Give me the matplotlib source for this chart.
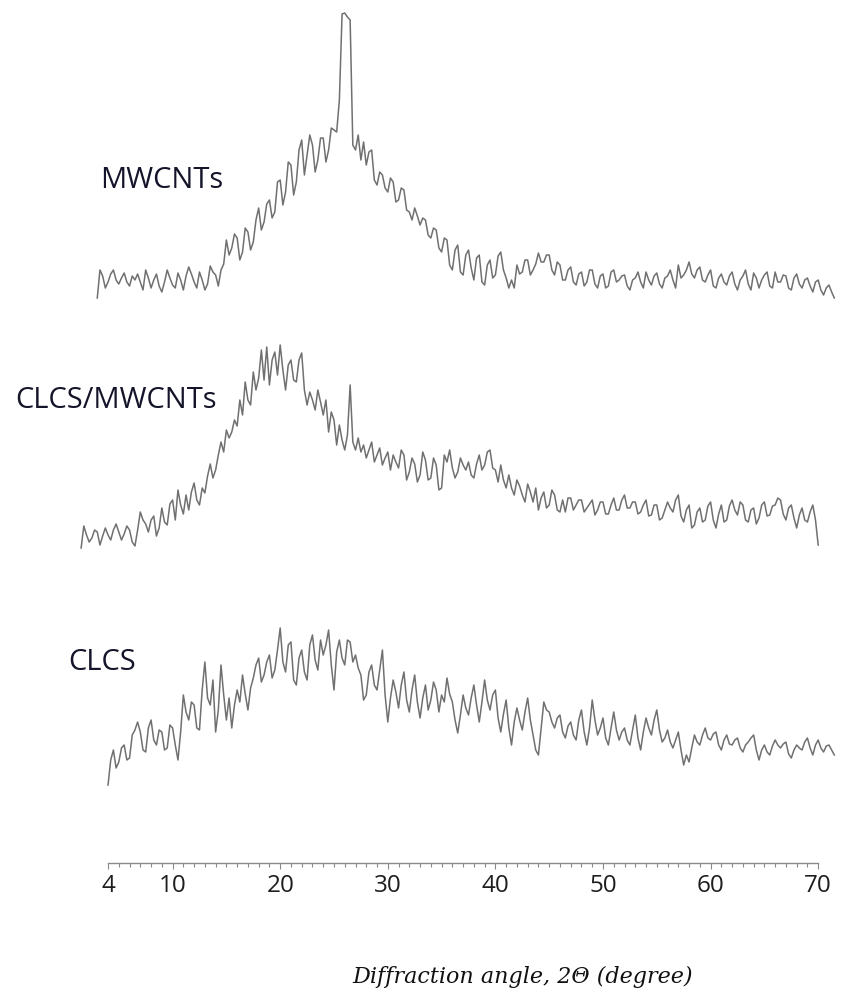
import numpy as np
import matplotlib
matplotlib.use("Agg")
import matplotlib.pyplot as plt
from matplotlib.ticker import FixedLocator

# --- XRD traces (relative intensity, one value every 0.25 deg) ---
step = 0.25

mwcnt_start = 3.0
mwcnt = [
    2, 30, 24, 12, 18, 26, 30, 20, 16, 22, 27, 18, 14, 24, 20, 26, 18, 10, 30, 22,
    12, 20, 26, 14, 8, 18, 30, 22, 15, 12, 27, 20, 10, 24, 33, 26, 18, 12, 28, 20,
    10, 16, 34, 28, 25, 14, 30, 36, 60, 45, 52, 66, 62, 40, 48, 72, 68, 50, 58, 80,
    92, 70, 78, 96, 100, 82, 88, 118, 120, 95, 108, 138, 135, 105, 118, 150, 160, 125, 145, 165,
    155, 128, 140, 162, 162, 138, 150, 172, 170, 168, 200, 286, 287, 283, 280, 155, 150, 165, 140, 158,
    135, 148, 150, 120, 115, 128, 125, 112, 108, 122, 118, 98, 100, 112, 110, 90, 88, 80, 92, 84,
    75, 82, 80, 65, 62, 72, 70, 52, 48, 62, 60, 35, 30, 50, 55, 28, 25, 45, 50, 32,
    20, 42, 45, 18, 15, 35, 40, 22, 25, 44, 48, 30, 22, 12, 20, 12, 35, 26, 28, 40,
    40, 25, 30, 36, 47, 38, 38, 45, 45, 30, 25, 38, 35, 20, 20, 30, 33, 18, 15, 26,
    28, 14, 18, 30, 30, 16, 12, 24, 26, 12, 14, 28, 30, 18, 20, 24, 25, 14, 10, 20,
    22, 28, 18, 12, 28, 20, 15, 24, 27, 16, 12, 22, 24, 30, 20, 12, 35, 22, 25, 30,
    38, 26, 22, 30, 33, 20, 18, 25, 30, 14, 12, 22, 26, 18, 15, 24, 28, 16, 10, 20,
    24, 30, 16, 10, 27, 22, 12, 20, 25, 28, 14, 12, 28, 18, 18, 25, 24, 12, 10, 22,
    26, 16, 12, 20, 22, 14, 8, 18, 20, 10, 5, 12, 15, 8, 2,
]

composite_start = 1.5
composite = [
    2, 24, 15, 8, 12, 20, 18, 5, 14, 22, 15, 10, 20, 26, 18, 10, 16, 24, 20, 8,
    4, 20, 38, 30, 26, 18, 30, 34, 14, 22, 42, 28, 25, 46, 50, 30, 60, 45, 36, 55,
    40, 58, 67, 50, 45, 62, 57, 74, 86, 72, 80, 95, 108, 98, 120, 112, 118, 130, 124, 150,
    135, 168, 150, 145, 178, 160, 172, 200, 170, 203, 165, 190, 198, 175, 205, 180, 160, 185, 190, 170,
    168, 190, 197, 160, 145, 158, 150, 140, 160, 148, 135, 150, 118, 138, 130, 105, 125, 110, 100, 115,
    165, 108, 100, 112, 98, 105, 92, 100, 108, 88, 95, 102, 85, 92, 98, 80, 95, 88, 82, 100,
    95, 70, 78, 92, 86, 68, 75, 98, 90, 70, 72, 92, 85, 60, 62, 95, 88, 100, 82, 72,
    78, 92, 85, 80, 88, 75, 72, 86, 95, 80, 85, 98, 100, 82, 80, 68, 85, 70, 62, 75,
    62, 55, 70, 64, 55, 48, 66, 58, 48, 62, 40, 52, 58, 42, 45, 60, 55, 40, 38, 50,
    38, 52, 52, 40, 45, 50, 50, 38, 42, 46, 50, 35, 40, 48, 48, 36, 36, 45, 52, 40,
    40, 50, 55, 42, 42, 48, 48, 36, 38, 45, 50, 34, 35, 45, 45, 30, 32, 40, 48, 42,
    38, 50, 55, 34, 28, 40, 45, 22, 25, 38, 42, 28, 30, 44, 48, 30, 22, 36, 45, 28,
    30, 44, 50, 40, 35, 48, 45, 30, 28, 40, 42, 26, 32, 45, 48, 34, 35, 44, 45, 52,
    50, 36, 30, 42, 45, 32, 22, 35, 42, 30, 28, 38, 45, 30, 5,
]

clcs_start = 4.0
clcs = [
    5, 30, 40, 22, 28, 42, 45, 30, 32, 55, 60, 68, 58, 40, 38, 62, 70, 50, 45, 60,
    58, 40, 42, 65, 62, 45, 30, 58, 95, 78, 70, 88, 85, 62, 60, 100, 128, 92, 85, 110,
    58, 80, 125, 95, 70, 92, 62, 85, 100, 88, 115, 96, 80, 102, 112, 125, 132, 108, 115, 128,
    135, 112, 120, 140, 162, 128, 118, 145, 148, 110, 105, 132, 140, 118, 110, 145, 155, 130, 120, 150,
    135, 145, 160, 125, 100, 138, 150, 132, 125, 150, 148, 128, 135, 122, 115, 90, 95, 118, 125, 105,
    100, 120, 140, 95, 68, 92, 110, 98, 82, 105, 118, 90, 78, 100, 115, 88, 72, 92, 105, 80,
    90, 108, 100, 78, 95, 88, 112, 96, 88, 70, 57, 75, 95, 82, 75, 92, 105, 85, 68, 88,
    110, 90, 80, 95, 100, 72, 58, 76, 90, 62, 45, 68, 82, 70, 60, 78, 92, 70, 55, 40,
    35, 62, 88, 80, 78, 68, 62, 72, 75, 58, 52, 64, 68, 55, 50, 70, 80, 58, 45, 62,
    90, 70, 55, 62, 72, 52, 45, 62, 78, 60, 50, 58, 62, 50, 45, 60, 75, 52, 40, 58,
    72, 62, 55, 70, 80, 60, 48, 52, 60, 48, 42, 50, 58, 40, 25, 35, 28, 42, 55, 48,
    45, 55, 62, 52, 50, 56, 58, 45, 40, 50, 55, 46, 45, 50, 52, 42, 38, 45, 48, 52,
    55, 40, 30, 40, 45, 38, 35, 44, 50, 45, 42, 46, 48, 36, 32, 40, 45, 42, 40, 48,
    52, 42, 35, 45, 50, 42, 38, 44, 45, 40, 35,
]

labels = ["MWCNTs", "CLCS/MWCNTs", "CLCS"]
tick_values = [4, 10, 20, 30, 40, 50, 60, 70]

# vertical stacking of the three patterns
offsets = [692, 442, 202]
axis_level = 129

fig = plt.figure(figsize=(8.41, 9.92), dpi=100)
ax = fig.add_axes([0, 0, 1, 1])
ax.set_xlim(-6.04, 72.12)
ax.set_ylim(0, 992)

line_kw = dict(color="#707070", lw=1.1)
for start, vals, off in [(mwcnt_start, mwcnt, offsets[0]),
                         (composite_start, composite, offsets[1]),
                         (clcs_start, clcs, offsets[2])]:
    vals = np.asarray(vals, dtype=float)
    x = start + step * np.arange(len(vals))
    ax.plot(x, vals + off, **line_kw)

font = "Open Sans"
txt_kw = dict(fontsize=21, family=font, color="#14142a", va="center", ha="left")
ax.text(3.26, 811, labels[0], **txt_kw)
ax.text(-4.64, 591, labels[1], **txt_kw)
ax.text(0.3, 330, labels[2], **txt_kw)

# bottom axis only
for side in ["left", "right", "top"]:
    ax.spines[side].set_visible(False)
ax.spines["bottom"].set_position(("data", axis_level))
ax.spines["bottom"].set_bounds(4, 70)
ax.spines["bottom"].set_color("#8a8a8a")
ax.spines["bottom"].set_linewidth(1.0)
ax.yaxis.set_visible(False)
ax.xaxis.set_major_locator(FixedLocator(tick_values))
ax.xaxis.set_minor_locator(FixedLocator(list(range(4, 71))))
ax.set_xticklabels([str(t) for t in tick_values], family=font, fontsize=17.5, color="#1e1e1e")
ax.tick_params(axis="x", which="major", direction="out", length=4, width=0.8, color="#8a8a8a", pad=4)
ax.tick_params(axis="x", which="minor", direction="out", length=3, width=0.8, color="#8a8a8a")

fig.text(693 / 841, 1 - 977 / 992, "Diffraction angle, 2Θ (degree)",
         ha="right", va="center", fontsize=16, style="italic",
         family="DejaVu Serif", color="#111111")

fig.savefig("out.png", dpi=100)
